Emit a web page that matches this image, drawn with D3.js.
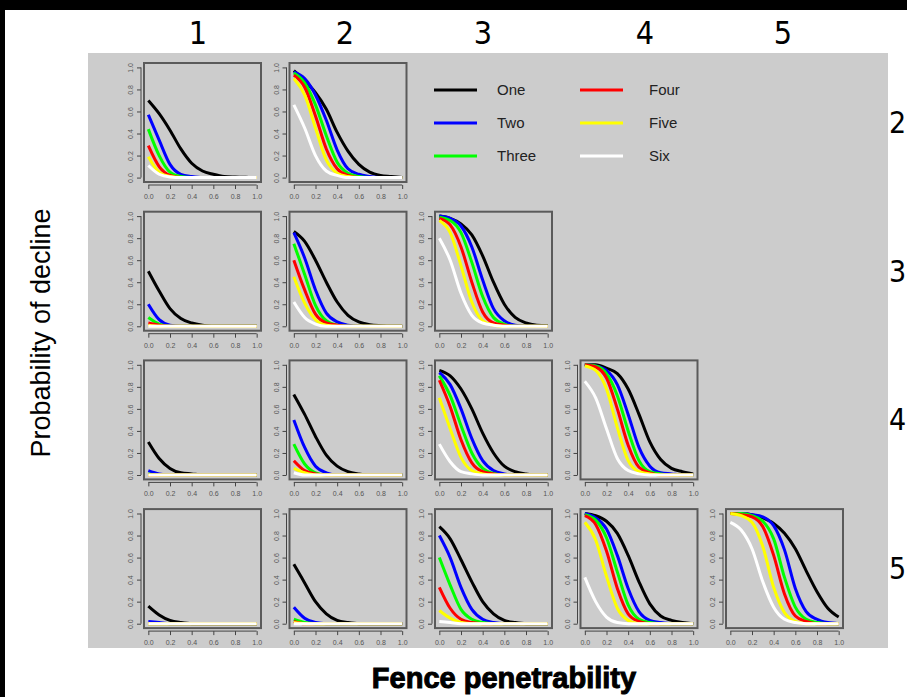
<!DOCTYPE html>
<html>
<head>
<meta charset="utf-8">
<script src="https://cdn.jsdelivr.net/npm/d3@7"></script>
<style>
  body { margin: 0; background: #ffffff; }
  svg { display: block; }
</style>
</head>
<body>
<div id="container"></div>
<script>
"use strict";

// Fence penetrability sample points (x axis of every panel).
const penetrability = [0, 0.1, 0.2, 0.3, 0.4, 0.5, 0.6, 0.7, 0.8, 0.9, 1.0];
const seriesNames = ["One", "Two", "Three", "Four", "Five", "Six"];
const seriesColors = ["#000000", "#0000ff", "#00ff00", "#ff0000", "#ffff00", "#ffffff"];
const columnLabels = ["1", "2", "3", "4", "5"];
const rowLabels = ["2", "3", "4", "5"];
const tickValues = [0, 0.2, 0.4, 0.6, 0.8, 1.0];

// Probability of decline, one array per series (One..Six), per panel.
const r2c1 = [
  [0.70, 0.58, 0.43, 0.26, 0.13, 0.06, 0.03, 0.01, 0.005, 0.002, 0],
  [0.57, 0.34, 0.12, 0.03, 0.01, 0, 0, 0, 0, 0, 0],
  [0.44, 0.20, 0.05, 0.01, 0, 0, 0, 0, 0, 0, 0],
  [0.29, 0.10, 0.02, 0, 0, 0, 0, 0, 0, 0, 0],
  [0.19, 0.05, 0.01, 0, 0, 0, 0, 0, 0, 0, 0],
  [0.11, 0.03, 0.005, 0, 0, 0, 0, 0, 0, 0, 0]
];
const r2c2 = [
  [0.97, 0.88, 0.77, 0.62, 0.41, 0.24, 0.12, 0.05, 0.02, 0.01, 0],
  [0.96, 0.90, 0.75, 0.52, 0.25, 0.08, 0.03, 0.01, 0, 0, 0],
  [0.95, 0.86, 0.66, 0.38, 0.14, 0.04, 0.01, 0, 0, 0, 0],
  [0.93, 0.82, 0.56, 0.26, 0.08, 0.02, 0, 0, 0, 0, 0],
  [0.90, 0.75, 0.45, 0.16, 0.04, 0.01, 0, 0, 0, 0, 0],
  [0.66, 0.45, 0.20, 0.06, 0.02, 0, 0, 0, 0, 0, 0]
];
const r3c1 = [
  [0.50, 0.32, 0.16, 0.07, 0.03, 0.01, 0, 0, 0, 0, 0],
  [0.20, 0.06, 0.01, 0, 0, 0, 0, 0, 0, 0, 0],
  [0.08, 0.02, 0, 0, 0, 0, 0, 0, 0, 0, 0],
  [0.03, 0.01, 0, 0, 0, 0, 0, 0, 0, 0, 0],
  [0.01, 0, 0, 0, 0, 0, 0, 0, 0, 0, 0],
  [0, 0, 0, 0, 0, 0, 0, 0, 0, 0, 0]
];
const r3c2 = [
  [0.86, 0.77, 0.60, 0.40, 0.22, 0.10, 0.04, 0.015, 0.005, 0, 0],
  [0.85, 0.62, 0.33, 0.12, 0.04, 0.01, 0, 0, 0, 0, 0],
  [0.75, 0.47, 0.19, 0.05, 0.01, 0, 0, 0, 0, 0, 0],
  [0.60, 0.33, 0.11, 0.03, 0.01, 0, 0, 0, 0, 0, 0],
  [0.45, 0.21, 0.06, 0.01, 0, 0, 0, 0, 0, 0, 0],
  [0.22, 0.08, 0.02, 0, 0, 0, 0, 0, 0, 0, 0]
];
const r3c3 = [
  [1.00, 0.98, 0.93, 0.83, 0.64, 0.40, 0.20, 0.08, 0.03, 0.01, 0.005],
  [1.00, 0.98, 0.91, 0.72, 0.42, 0.16, 0.05, 0.01, 0, 0, 0],
  [0.99, 0.96, 0.85, 0.58, 0.27, 0.08, 0.02, 0, 0, 0, 0],
  [0.98, 0.92, 0.72, 0.40, 0.13, 0.03, 0.01, 0, 0, 0, 0],
  [0.96, 0.85, 0.55, 0.22, 0.05, 0.01, 0, 0, 0, 0, 0],
  [0.80, 0.60, 0.30, 0.10, 0.03, 0.01, 0, 0, 0, 0, 0]
];
const r4c1 = [
  [0.30, 0.15, 0.06, 0.02, 0.01, 0, 0, 0, 0, 0, 0],
  [0.04, 0.01, 0, 0, 0, 0, 0, 0, 0, 0, 0],
  [0.01, 0, 0, 0, 0, 0, 0, 0, 0, 0, 0],
  [0, 0, 0, 0, 0, 0, 0, 0, 0, 0, 0],
  [0, 0, 0, 0, 0, 0, 0, 0, 0, 0, 0],
  [0, 0, 0, 0, 0, 0, 0, 0, 0, 0, 0]
];
const r4c2 = [
  [0.73, 0.55, 0.35, 0.18, 0.08, 0.03, 0.01, 0, 0, 0, 0],
  [0.50, 0.25, 0.08, 0.02, 0, 0, 0, 0, 0, 0, 0],
  [0.28, 0.10, 0.02, 0, 0, 0, 0, 0, 0, 0, 0],
  [0.13, 0.04, 0.01, 0, 0, 0, 0, 0, 0, 0, 0],
  [0.06, 0.02, 0, 0, 0, 0, 0, 0, 0, 0, 0],
  [0.02, 0, 0, 0, 0, 0, 0, 0, 0, 0, 0]
];
const r4c3 = [
  [0.95, 0.90, 0.78, 0.60, 0.38, 0.20, 0.08, 0.03, 0.01, 0, 0],
  [0.93, 0.82, 0.60, 0.33, 0.13, 0.04, 0.01, 0, 0, 0, 0],
  [0.90, 0.72, 0.45, 0.20, 0.06, 0.015, 0, 0, 0, 0, 0],
  [0.86, 0.62, 0.32, 0.11, 0.03, 0.01, 0, 0, 0, 0, 0],
  [0.70, 0.42, 0.16, 0.04, 0.01, 0, 0, 0, 0, 0, 0],
  [0.28, 0.12, 0.03, 0.01, 0, 0, 0, 0, 0, 0, 0]
];
const r4c4 = [
  [1.00, 1.00, 0.97, 0.92, 0.78, 0.55, 0.30, 0.14, 0.06, 0.03, 0.01],
  [1.00, 0.99, 0.95, 0.82, 0.55, 0.25, 0.08, 0.02, 0.01, 0, 0],
  [1.00, 0.99, 0.92, 0.72, 0.40, 0.13, 0.03, 0.01, 0, 0, 0],
  [1.00, 0.98, 0.88, 0.60, 0.27, 0.07, 0.02, 0, 0, 0, 0],
  [0.99, 0.95, 0.78, 0.43, 0.13, 0.03, 0.01, 0, 0, 0, 0],
  [0.85, 0.70, 0.42, 0.15, 0.04, 0.01, 0, 0, 0, 0, 0]
];
const r5c1 = [
  [0.16, 0.08, 0.03, 0.01, 0, 0, 0, 0, 0, 0, 0],
  [0.02, 0.01, 0, 0, 0, 0, 0, 0, 0, 0, 0],
  [0, 0, 0, 0, 0, 0, 0, 0, 0, 0, 0],
  [0, 0, 0, 0, 0, 0, 0, 0, 0, 0, 0],
  [0, 0, 0, 0, 0, 0, 0, 0, 0, 0, 0],
  [0, 0, 0, 0, 0, 0, 0, 0, 0, 0, 0]
];
const r5c2 = [
  [0.54, 0.37, 0.20, 0.09, 0.03, 0.01, 0, 0, 0, 0, 0],
  [0.15, 0.05, 0.01, 0, 0, 0, 0, 0, 0, 0, 0],
  [0.04, 0.01, 0, 0, 0, 0, 0, 0, 0, 0, 0],
  [0.02, 0, 0, 0, 0, 0, 0, 0, 0, 0, 0],
  [0.01, 0, 0, 0, 0, 0, 0, 0, 0, 0, 0],
  [0, 0, 0, 0, 0, 0, 0, 0, 0, 0, 0]
];
const r5c3 = [
  [0.88, 0.77, 0.58, 0.38, 0.20, 0.09, 0.03, 0.01, 0, 0, 0],
  [0.80, 0.60, 0.33, 0.13, 0.04, 0.01, 0, 0, 0, 0, 0],
  [0.60, 0.35, 0.13, 0.04, 0.01, 0, 0, 0, 0, 0, 0],
  [0.33, 0.14, 0.04, 0.01, 0, 0, 0, 0, 0, 0, 0],
  [0.12, 0.05, 0.01, 0, 0, 0, 0, 0, 0, 0, 0],
  [0.02, 0.01, 0, 0, 0, 0, 0, 0, 0, 0, 0]
];
const r5c4 = [
  [1.00, 0.98, 0.93, 0.82, 0.62, 0.38, 0.18, 0.07, 0.03, 0.01, 0],
  [1.00, 0.96, 0.86, 0.62, 0.32, 0.11, 0.03, 0.01, 0, 0, 0],
  [0.99, 0.94, 0.78, 0.47, 0.17, 0.04, 0.01, 0, 0, 0, 0],
  [0.98, 0.90, 0.66, 0.32, 0.09, 0.02, 0, 0, 0, 0, 0],
  [0.92, 0.76, 0.43, 0.14, 0.03, 0, 0, 0, 0, 0, 0],
  [0.42, 0.20, 0.06, 0.01, 0, 0, 0, 0, 0, 0, 0]
];
const r5c5 = [
  [1.00, 1.00, 0.99, 0.96, 0.91, 0.82, 0.68, 0.48, 0.29, 0.14, 0.06],
  [1.00, 1.00, 0.99, 0.97, 0.89, 0.67, 0.32, 0.11, 0.04, 0.01, 0],
  [1.00, 1.00, 0.98, 0.93, 0.77, 0.42, 0.15, 0.04, 0.01, 0, 0],
  [1.00, 0.99, 0.97, 0.88, 0.62, 0.27, 0.07, 0.02, 0, 0, 0],
  [1.00, 0.98, 0.92, 0.70, 0.33, 0.10, 0.02, 0, 0, 0, 0],
  [0.92, 0.85, 0.68, 0.38, 0.15, 0.04, 0.01, 0, 0, 0, 0]
];

const panels = [
  { row: 0, col: 0, data: r2c1 }, { row: 0, col: 1, data: r2c2 },
  { row: 1, col: 0, data: r3c1 }, { row: 1, col: 1, data: r3c2 }, { row: 1, col: 2, data: r3c3 },
  { row: 2, col: 0, data: r4c1 }, { row: 2, col: 1, data: r4c2 }, { row: 2, col: 2, data: r4c3 },
  { row: 2, col: 3, data: r4c4 },
  { row: 3, col: 0, data: r5c1 }, { row: 3, col: 1, data: r5c2 }, { row: 3, col: 2, data: r5c3 },
  { row: 3, col: 3, data: r5c4 }, { row: 3, col: 4, data: r5c5 }
];

const width = 907;
const height = 697;
const boxW = 117;
const boxH = 119;
const colStep = 145.5;
const rowStep = 148.7;
const firstLeft = 144;
const firstTop = 63;
const labelFont = "'DejaVu Sans Condensed', 'Liberation Sans Narrow', 'DejaVu Sans', sans-serif";

const svg = d3.create("svg").attr("width", width).attr("height", height);

// Frame: white page, black strips on top and left, grey plotting area.
svg.append("rect").attr("width", width).attr("height", height).attr("fill", "#ffffff");
svg.append("rect").attr("width", width).attr("height", 10).attr("fill", "#000000");
svg.append("rect").attr("width", 5).attr("height", height).attr("fill", "#000000");
svg.append("rect")
  .attr("x", 88).attr("y", 53).attr("width", 800).attr("height", 595)
  .attr("fill", "#cccccc");

// Shared scales for one panel (R style 4% padding).
const x = d3.scaleLinear().domain([-0.04, 1.04]).range([0, boxW]);
const y = d3.scaleLinear().domain([-0.04, 1.04]).range([boxH, 0]);

const line = d3.line()
  .x((d) => x(d[0]))
  .y((d) => y(d[1]))
  .curve(d3.curveMonotoneX);

panels.forEach((p) => {
  const left = firstLeft + p.col * colStep;
  const top = firstTop + p.row * rowStep;
  const g = svg.append("g").attr("transform", `translate(${left},${top})`);

  // Curves, One drawn first so Six sits on top.
  p.data.forEach((values, i) => {
    g.append("path")
      .datum(penetrability.map((px, j) => [px, values[j]]))
      .attr("fill", "none")
      .attr("stroke", seriesColors[i])
      .attr("stroke-width", 3)
      .attr("d", line);
  });

  // Plot box.
  g.append("rect")
    .attr("width", boxW).attr("height", boxH)
    .attr("fill", "none")
    .attr("stroke", "#5a5a5a")
    .attr("stroke-width", 2);

  // x axis, detached below the box.
  const xa = g.append("g")
    .attr("transform", `translate(0,${boxH + 3})`)
    .call(d3.axisBottom(x).tickValues(tickValues).tickFormat(d3.format(".1f"))
      .tickSize(4).tickPadding(5))
    .style("font-family", "'Liberation Sans', Arial, sans-serif")
    .style("font-size", "7px");
  xa.select(".domain").remove();
  xa.append("line").attr("x1", x(0)).attr("x2", x(1)).attr("stroke", "#444");
  xa.selectAll("line").attr("stroke", "#444");
  xa.selectAll("text").attr("fill", "#555");

  // y axis, labels rotated like base R.
  const ya = g.append("g")
    .attr("transform", "translate(-3,0)")
    .call(d3.axisLeft(y).tickValues(tickValues).tickFormat(d3.format(".1f"))
      .tickSize(4).tickPadding(4))
    .style("font-family", "'Liberation Sans', Arial, sans-serif")
    .style("font-size", "7px");
  ya.select(".domain").remove();
  ya.append("line").attr("y1", y(0)).attr("y2", y(1)).attr("stroke", "#444");
  ya.selectAll("line").attr("stroke", "#444");
  ya.selectAll(".tick text")
    .attr("transform", "rotate(-90)")
    .attr("x", 0).attr("y", -8).attr("dy", 0)
    .attr("fill", "#555")
    .style("text-anchor", "middle");
});

// Legend in the empty cells of the first row.
const legend = svg.append("g").attr("font-family", "'Liberation Sans', Arial, sans-serif")
  .attr("font-size", 15).attr("fill", "#222");
seriesNames.forEach((name, i) => {
  const c = Math.floor(i / 3);
  const r = i % 3;
  const lx = c === 0 ? 434 : 580;
  const ly = 90 + r * 33;
  legend.append("line")
    .attr("x1", lx).attr("x2", lx + 43)
    .attr("y1", ly).attr("y2", ly)
    .attr("stroke", seriesColors[i]).attr("stroke-width", 3);
  legend.append("text")
    .attr("x", c === 0 ? 497 : 649).attr("y", ly + 5)
    .text(name);
});

// Column and row headings.
svg.selectAll(".col-label")
  .data(columnLabels)
  .enter()
  .append("text")
  .attr("x", (d, i) => [198, 345, 483, 645, 783][i])
  .attr("y", 44)
  .attr("text-anchor", "middle")
  .attr("font-family", labelFont)
  .attr("font-size", 32)
  .attr("fill", "#000")
  .text((d) => d);

svg.selectAll(".row-label")
  .data(rowLabels)
  .enter()
  .append("text")
  .attr("x", 889)
  .attr("y", (d, i) => firstTop + i * rowStep + 70)
  .attr("font-family", labelFont)
  .attr("font-size", 30)
  .attr("fill", "#000")
  .text((d) => d);

// Axis titles.
svg.append("text")
  .attr("transform", "translate(50,333) rotate(-90)")
  .attr("text-anchor", "middle")
  .attr("font-family", "'Liberation Sans', Arial, sans-serif")
  .attr("font-size", 27)
  .attr("fill", "#000")
  .text("Probability of decline");

svg.append("text")
  .attr("x", 504).attr("y", 688)
  .attr("text-anchor", "middle")
  .attr("font-family", "'Liberation Sans', Arial, sans-serif")
  .attr("font-weight", "bold")
  .attr("font-size", 29)
  .attr("fill", "#000")
  .attr("stroke", "#000")
  .attr("stroke-width", 1)
  .text("Fence penetrability");

d3.select("#container").append(() => svg.node());
</script>
</body>
</html>
